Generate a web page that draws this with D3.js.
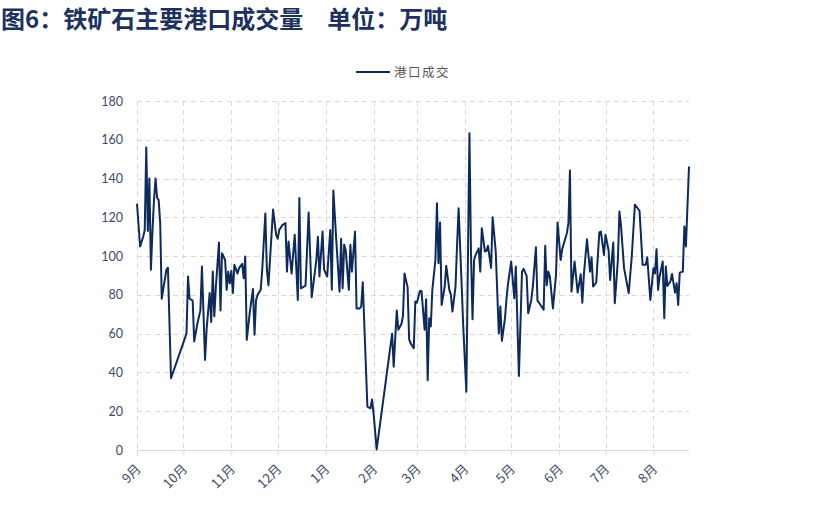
<!DOCTYPE html>
<html><head><meta charset="utf-8">
<script src="https://cdn.jsdelivr.net/npm/d3@7"></script>
<style>
html,body{margin:0;padding:0;background:#fff;}
svg{display:block;}
</style></head>
<body>
<svg id="chart" width="819" height="530"></svg>
<script>
const titleText = "图6：铁矿石主要港口成交量\u3000单位：万吨";
const seriesName = "港口成交";
const yTicks = [0,20,40,60,80,100,120,140,160,180];
const monthTicks = ["2022-09-01","2022-10-01","2022-11-01","2022-12-01","2023-01-01","2023-02-01","2023-03-01","2023-04-01","2023-05-01","2023-06-01","2023-07-01","2023-08-01"];
const monthLabels = ["9月","10月","11月","12月","1月","2月","3月","4月","5月","6月","7月","8月"];
const dates = [
"2022-09-01","2022-09-03","2022-09-05","2022-09-06","2022-09-07","2022-09-08","2022-09-09","2022-09-10","2022-09-11","2022-09-12",
"2022-09-13","2022-09-14","2022-09-15","2022-09-16","2022-09-17","2022-09-19","2022-09-20","2022-09-21","2022-09-23","2022-10-03",
"2022-10-04","2022-10-05","2022-10-07","2022-10-08","2022-10-10","2022-10-12","2022-10-13","2022-10-15","2022-10-16","2022-10-18",
"2022-10-19","2022-10-20","2022-10-21","2022-10-22","2022-10-24","2022-10-25","2022-10-26","2022-10-28","2022-10-29","2022-10-30",
"2022-10-31","2022-11-01","2022-11-02","2022-11-03","2022-11-05","2022-11-06","2022-11-08","2022-11-09","2022-11-10","2022-11-11",
"2022-11-13","2022-11-15","2022-11-16","2022-11-17","2022-11-18","2022-11-20","2022-11-21","2022-11-23","2022-11-24","2022-11-25",
"2022-11-28","2022-11-30","2022-12-01","2022-12-02","2022-12-04","2022-12-06","2022-12-07","2022-12-08","2022-12-10","2022-12-12",
"2022-12-14","2022-12-15","2022-12-16","2022-12-19","2022-12-21","2022-12-23","2022-12-26","2022-12-27","2022-12-28","2022-12-30",
"2022-12-31","2023-01-02","2023-01-04","2023-01-05","2023-01-06","2023-01-08","2023-01-10","2023-01-11","2023-01-12","2023-01-13",
"2023-01-14","2023-01-16","2023-01-17","2023-01-18","2023-01-20","2023-01-21","2023-01-23","2023-01-24","2023-01-25","2023-01-28",
"2023-01-30","2023-01-31","2023-02-01","2023-02-03","2023-02-13","2023-02-14","2023-02-16","2023-02-17","2023-02-19","2023-02-20",
"2023-02-21","2023-02-23","2023-02-24","2023-02-25","2023-02-27","2023-02-28","2023-03-01","2023-03-03","2023-03-04","2023-03-06",
"2023-03-07","2023-03-08","2023-03-09","2023-03-10","2023-03-11","2023-03-13","2023-03-14","2023-03-15","2023-03-16","2023-03-17",
"2023-03-19","2023-03-20","2023-03-22","2023-03-23","2023-03-24","2023-03-26","2023-03-27","2023-03-28","2023-03-30","2023-03-31",
"2023-04-02","2023-04-04","2023-04-05","2023-04-06","2023-04-07","2023-04-08","2023-04-10","2023-04-11","2023-04-12","2023-04-14",
"2023-04-15","2023-04-16","2023-04-18","2023-04-19","2023-04-21","2023-04-23","2023-04-24","2023-04-25","2023-04-27","2023-04-28",
"2023-04-29","2023-05-01","2023-05-03","2023-05-04","2023-05-06","2023-05-08","2023-05-09","2023-05-11","2023-05-12","2023-05-14",
"2023-05-15","2023-05-17","2023-05-18","2023-05-20","2023-05-22","2023-05-23","2023-05-24","2023-05-25","2023-05-26","2023-05-28",
"2023-05-30","2023-05-31","2023-06-02","2023-06-03","2023-06-06","2023-06-07","2023-06-08","2023-06-09","2023-06-10","2023-06-11",
"2023-06-13","2023-06-15","2023-06-16","2023-06-17","2023-06-19","2023-06-21","2023-06-22","2023-06-23","2023-06-25","2023-06-27",
"2023-06-28","2023-06-30","2023-07-01","2023-07-03","2023-07-04","2023-07-06","2023-07-07","2023-07-09","2023-07-10","2023-07-11",
"2023-07-13","2023-07-16","2023-07-18","2023-07-20","2023-07-23","2023-07-25","2023-07-27","2023-07-28","2023-07-30","2023-08-01",
"2023-08-02","2023-08-03","2023-08-04","2023-08-05","2023-08-07","2023-08-08","2023-08-09","2023-08-10","2023-08-12","2023-08-13",
"2023-08-15","2023-08-16","2023-08-17","2023-08-18","2023-08-20","2023-08-21","2023-08-22","2023-08-24"
];
const values = [
127,105,110,113.5,156,113,140,93,113,129,
140,130,129,117,78,88,93,94,37,60,
89.5,78,77,56,65,72,94.6,46.5,62,81,
66,92,69,84,107,72,101.5,98,82.6,92,
86,92.4,81,95.5,91,93.8,96,88.6,99.8,56.8,
71.4,83,59.4,77.4,80,82.6,93,122,93,85,
124,111,109,113.5,116,117,92,107.5,91,111,
77.4,130,83.4,84.8,122.5,78.8,98,110,89.5,112.7,
93,89.5,113.5,82.6,133.8,106.7,81.7,109,83.4,105.8,
103,82.6,105.8,92,112.7,73,73,74,86.5,22.4,
21.5,26,19,0.3,60,43,72,62,65,69,
91,84,57,55,52.5,76.6,76,82,82,62,
77.8,36,68,63.7,82.6,98,127.3,96.3,117.3,74.8,
84.3,95,82.6,80,71.4,84.3,105.8,124.7,84.3,63.7,
30,163.4,101.5,67.4,98,100.6,104,92,114.4,102.4,
102.7,105.3,94,120,102.4,60.2,74,56.3,68,78.3,
86,97.2,78.3,94.6,38.2,92,93.4,89.8,70.5,77.4,
84.3,104.6,77,74.8,72.3,105.3,85,92,89.5,73,
90.3,117.3,98,103.6,111.8,117,144.2,81.7,89.5,97.2,
81.2,90.7,76,90.3,108.7,92,99.4,84.3,86.4,112.2,
112.7,100.6,111,103,87.7,107,75.7,98,123,116,
93.8,80.9,100,126.5,123.4,95.5,95.5,99.4,77.4,93.8,
91,103.6,82.6,89.5,97.2,68,94.6,84.6,87,90.8,
81.2,86,74.8,91.5,92,115.3,105,146.2
];

(function(){
const parse = d3.timeParse("%Y-%m-%d");
const data = dates.map((d,i)=>({date:parse(d), v:values[i]}));

const svg = d3.select("#chart");
const pL = 137, pR = 689, pT = 101, pB = 450;

const x = d3.scaleTime().domain(d3.extent(data, d=>d.date)).range([pL, pR]);
const y = d3.scaleLinear().domain([0,180]).range([pB, pT]);

// title
svg.append("text").attr("x", 1).attr("y", 28)
  .attr("font-family", "'Noto Sans CJK SC', sans-serif").attr("font-weight", "bold")
  .attr("font-size", 24).attr("fill", "#1c3160").text(titleText);

// horizontal gridlines
svg.append("g").selectAll("line").data(yTicks.filter(t=>t>0)).join("line")
  .attr("x1", pL).attr("x2", pR).attr("y1", d=>Math.round(y(d))+0.5).attr("y2", d=>Math.round(y(d))+0.5)
  .attr("stroke", "#d9d9d9").attr("stroke-width", 1).attr("stroke-dasharray", "5,4");

// vertical gridlines
const mTicks = monthTicks.map(parse);
svg.append("g").selectAll("line").data(mTicks).join("line")
  .attr("x1", d=>Math.round(x(d))+0.5).attr("x2", d=>Math.round(x(d))+0.5)
  .attr("y1", pT).attr("y2", pB)
  .attr("stroke", "#d9d9d9").attr("stroke-width", 1).attr("stroke-dasharray", "5,4");

// y axis labels
const yAxis = d3.axisLeft(y).tickValues(yTicks).tickSize(0).tickPadding(14);
const gy = svg.append("g").attr("transform", `translate(${pL},0)`).call(yAxis);
gy.select(".domain").remove();
gy.selectAll("text").attr("font-family", "Lato, 'Open Sans', sans-serif")
  .attr("font-size", 12.5).attr("fill", "#3b4a6b");

// x axis
const xAxis = d3.axisBottom(x).tickValues(mTicks).tickSize(5)
  .tickFormat((d,i)=>monthLabels[i]);
const gx = svg.append("g").attr("transform", `translate(0,${pB+0.5})`).call(xAxis);
gx.select(".domain").attr("stroke", "#d9d9d9").attr("d", `M${pL},0H${pR}`);
gx.selectAll(".tick line").attr("stroke", "#d9d9d9");
gx.selectAll(".tick text")
  .attr("font-family", "'Noto Sans CJK SC', sans-serif").attr("font-size", 13)
  .attr("fill", "#3b4a6b").attr("text-anchor", "end")
  .attr("dy", "0.35em")
  .attr("transform", "translate(1,16) rotate(-45)")
  .attr("y", 0).attr("x", 0);

// line
const line = d3.line().x(d=>x(d.date)).y(d=>y(d.v));
svg.append("path").datum(data).attr("d", line)
  .attr("fill", "none").attr("stroke", "#0d2a5f").attr("stroke-width", 2)
  .attr("stroke-linejoin", "round");

// legend
const lg = svg.append("g").attr("transform", "translate(356,72)");
lg.append("line").attr("x1", 0).attr("x2", 34).attr("y1", 0).attr("y2", 0)
  .attr("stroke", "#0d2a5f").attr("stroke-width", 2);
lg.append("text").attr("x", 38).attr("y", 5)
  .attr("font-family", "'Noto Sans CJK SC', sans-serif").attr("font-size", 12.5)
  .attr("letter-spacing", "1.5px")
  .attr("fill", "#595959").text(seriesName);
})();
</script>
</body></html>
